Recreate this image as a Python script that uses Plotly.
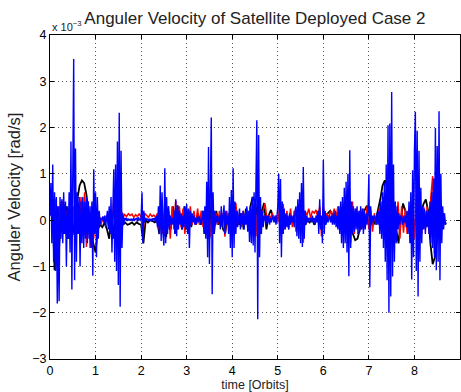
import numpy as np
import plotly.graph_objects as go

# ---- data (angular velocity, units of 1e-3 rad/s) ----
dt_blue = 0.02
blue_vals = [
    0.1, 0.8, -0.5, 1.2, -0.9, 0.6, -1.1, 0.5, -1.8, 0.3,
    -1.75, 0.5, -0.4, 0.45, -0.5, 0.6, -0.3, 0.4, -1.0, 0.3,
    -0.4, 0.6, -0.7, 1.7, -1.5, 0.8, 3.48, -1.3, 1.55, -0.9,
    0.6, -0.3, 0.5, -1.0, 0.4, -0.5, 0.5, -0.6, 0.4, -0.4,
    0.5, -0.5, 0.4, -0.4, 0.3, -0.6, 0.4, -1.2, 1.1, -0.3,
    0.6, -0.8, 0.5, -0.4, 0.2, -0.1, 0.05, 0.0, 0.08, -0.05,
    0.1, -0.15, 0.05, 0.2, -0.2, 0.3, -0.3, 0.5, -0.7, 0.8,
    1.1, -0.9, 1.2, -1.1, 1.7, -1.4, 2.32, -1.87, 1.5, -0.6,
    0.15, -0.1, 0.05, 0.0, 0.05, -0.02, 0.03, 0.0, 0.02, 0.0,
    0.03, -0.02, 0.04, 0.0, 0.02, 0.05, -0.03, 0.06, 0.02, 0.0,
    0.05, 0.6, -0.5, 0.2, -0.05, 0.05, 0.0, 0.03, -0.02, 0.02,
    0.0, 0.03, -0.02, 0.04, 0.0, 0.05, -0.05, 0.1, -0.15, 0.3,
    -0.3, 0.75, -0.45, 0.6, -0.3, -0.55, 1.12, -0.5, 0.5, -0.3,
    0.3, -0.2, 0.1, -0.1, 0.05, -0.1, 0.2, -0.3, 0.45, -0.35,
    0.3, -0.2, 0.2, -0.1, 0.15, -0.2, 0.1, -0.15, 0.3, -0.2,
    0.35, -0.3, 0.25, -0.6, 0.2, -0.1, 0.15, -0.05, 0.1, -0.1,
    0.05, -0.08, 0.1, -0.05, 0.08, 0.0, -0.1, 0.05, 0.2, -0.3,
    0.3, -0.4, 0.83, -0.8, 1.58, -0.95, 0.9, 2.22, -1.6, 0.6,
    -0.3, 0.2, -0.1, 0.1, -0.05, 0.05, 0.1, -0.2, 0.3, -0.15,
    0.1, 0.32, -0.3, 0.2, -0.1, 0.1, -0.3, 0.5, -0.6, 0.65,
    -0.8, 1.12, -0.6, 0.4, -0.3, 0.2, -0.15, 0.1, 0.25, -0.2,
    0.15, -0.1, 0.2, -0.2, 0.15, -0.1, 0.3, -0.25, 0.2, -0.47,
    0.3, -0.5, 0.5, -0.55, 0.6, -0.7, 1.2, 2.16, -2.14, 1.84,
    -0.8, 0.5, -0.3, 0.2, -0.15, 0.1, 0.05, -0.1, 0.1, -0.05,
    0.1, -0.1, 0.05, -0.05, 0.1, 0.0, -0.05, 0.1, -0.1, 0.05,
    0.3, 1.0, -0.5, 0.89, -0.8, 0.4, -0.3, 0.25, -0.2, 0.15,
    -0.15, 0.1, -0.2, 0.15, -0.1, 0.1, -0.05, 0.1, -0.15, 0.2,
    0.3, -0.35, 0.45, -0.4, 0.6, -0.5, 0.8, -0.58, 1.15, -0.4,
    0.2, -0.1, 0.1, -0.05, 0.05, 0.0, 0.05, -0.05, 0.1, -0.05,
    0.05, -0.1, 0.1, -0.05, 0.2, -0.3, 0.45, -0.2, 0.1, -0.5,
    1.3, -0.3, 0.2, -0.1, 0.1, -0.05, 0.05, 0.1, -0.05, 0.1,
    -0.1, 0.15, -0.1, 0.2, -0.15, 0.1, -0.2, 0.3, -0.3, 0.4,
    -0.5, 0.5, -0.6, 0.7, -0.5, 0.83, -0.7, 1.0, -1.21, 1.51,
    -0.6, 0.4, -0.3, 0.3, -0.25, 0.25, -0.2, 0.3, -0.3, 0.2,
    -0.25, 0.3, -0.2, 0.25, -0.3, 0.2, -0.2, 0.15, -0.1, 0.2,
    0.99, -1.45, 0.3, -0.1, 0.1, -0.05, 0.1, 0.05, -0.1, 0.15,
    -0.1, 0.2, -0.3, 0.4, -0.4, 0.6, -0.6, 0.8, -0.9, 1.2,
    -1.3, 2.05, -2.0, 2.09, -1.65, 2.77, -1.22, 1.2, -0.9, 0.4,
    -0.5, 0.3, -0.2, 0.15, -0.1, 0.1, 0.05, -0.1, 0.1, -0.05,
    0.1, -0.15, 0.2, -0.3, 0.4, -0.5, 0.6, -1.28, 1.08, -0.8,
    1.5, 2.34, -1.1, 1.93, -1.65, 1.5, -0.9, 0.7, -0.5, 0.3,
    -0.2, 0.25, -0.3, 0.2, -0.15, 0.2, -0.3, 0.4, -0.5, 0.6,
    -0.6, 0.9, -0.8, 1.99, -1.08, 1.6, -0.9, 2.35, -1.3, 1.0,
    -0.5, 0.3, -0.2, 0.15, -0.1, -0.05,
]

dt_red = 0.04
red_vals = [
    0.1, 0.5, -0.3, 0.45, -0.4, 0.3, -0.2, 0.4, -0.3, 0.2,
    -0.3, 0.5, -0.4, 0.3, -0.5, 0.4, -0.3, 0.5, -0.2, 0.6,
    -0.58, 0.4, -0.6, 0.3, -0.4, 0.2, -0.3, 0.1, -0.1, 0.05,
    0.0, 0.1, -0.1, 0.2, -0.3, 0.5, -0.4, 0.3, -0.5, 0.2,
    0.05, 0.12, 0.08, 0.14, 0.1, 0.13, 0.06, 0.12, 0.08, 0.14,
    0.06, -0.3, 0.15, 0.1, 0.06, 0.13, 0.08, 0.11, 0.06, 0.15,
    -0.2, 0.35, -0.3, 0.4, -0.2, 0.3, -0.4, 0.3, -0.2, 0.42,
    -0.2, 0.3, -0.15, 0.25, -0.3, 0.2, -0.2, 0.3, -0.1, 0.2,
    -0.1, 0.25, -0.1, 0.2, -0.15, 0.2, -0.3, 0.35, -0.35, 0.3,
    -0.2, 0.15, -0.1, 0.2, -0.1, 0.15, -0.36, 0.2, -0.1, 0.3,
    -0.3, 0.2, 0.37, -0.1, 0.15, -0.15, 0.2, -0.1, 0.25, -0.2,
    0.3, -0.3, 0.25, -0.35, 0.3, 0.2, -0.1, 0.2, 0.36, 0.05,
    0.1, 0.05, 0.15, 0.0, 0.1, -0.05, 0.3, -0.25, 0.35, -0.2,
    0.2, -0.2, 0.25, -0.15, 0.2, -0.25, 0.2, -0.1, 0.3, -0.49,
    0.2, 0.1, 0.25, 0.05, 0.2, 0.15, 0.22, 0.05, 0.29, -0.35,
    0.3, -0.1, 0.15, 0.05, 0.2, 0.1, 0.25, 0.05, 0.3, -0.2,
    0.3, -0.3, 0.4, -0.3, 0.5, -0.5, 0.4, -0.3, 0.25, -0.1,
    0.2, -0.2, 0.25, -0.15, 0.3, -0.2, 0.2, -0.25, 0.15, -0.1,
    0.1, 0.3, -0.1, 0.5, -0.3, 0.4, -0.7, 0.45, -0.65, 0.3,
    -0.3, 0.4, -0.4, 0.3, -0.27, 0.25, -0.3, 0.2, -0.3, 0.35,
    -0.4, 0.5, -0.5, 0.45, -0.3, 0.3, -0.2, 0.3, -0.3, 0.5,
    0.95, -0.72, 0.6, -0.4, 0.35, -0.2, 0.15, -0.1,
]

dt_black = 0.05
black_vals = [
    0.2, 0.4, -1.08, 0.3, -0.6, 0.4, -0.3, 0.3, -0.4, -0.3,
    -0.3, 0.2, 0.45, 0.75, 0.86, 0.8, 0.55, 0.1, -0.3, -0.5,
    -0.7, -0.2, -0.1, -0.15, -0.05, -0.2, -0.4, 0.2, -0.4, 0.3,
    -0.5, 0.3, -0.1, -0.05, -0.1, -0.08, -0.05, -0.1, -0.05, -0.08,
    -0.1, -0.5, 0.0, -0.05, 0.0, -0.02, -0.05, 0.0, -0.3, 0.3,
    -0.3, -0.36, 0.2, -0.2, 0.3, -0.29, 0.32, 0.1, -0.2, 0.3,
    -0.2, 0.2, -0.15, 0.1, -0.1, 0.15, -0.1, 0.2, -0.3, 0.3,
    -0.4, 0.5, -0.3, 0.2, -0.1, 0.1, -0.2, -0.27, 0.15, -0.1,
    0.3, -0.3, 0.2, -0.1, 0.15, -0.2, 0.25, -0.2, 0.3, 0.5,
    0.4, 0.1, -0.25, 0.2, 0.37, -0.2, 0.1, 0.22, 0.05, 0.0,
    0.05, 0.1, -0.05, 0.0, 0.05, -0.1, 0.0, 0.05, -0.05, 0.0,
    -0.1, 0.05, -0.1, 0.0, -0.05, 0.05, -0.1, 0.0, 0.1, -0.1,
    0.15, 0.1, 0.15, 0.2, 0.1, 0.15, 0.15, 0.05, 0.2, 0.0,
    0.3, 0.37, -0.1, -0.3, -0.43, -0.4, -0.2, 0.0, 0.2, 0.3,
    0.29, 0.0, -0.1, 0.0, 0.2, 0.45, 0.75, 0.86, 0.7, 0.2,
    -0.2, 0.1, -0.2, -0.5, 0.0, 0.36, 0.2, -0.1, -0.05, 0.0,
    -0.1, 0.0, 0.1, 0.2, 0.35, 0.45, 0.2, -0.5, -0.95, -0.8,
    -0.3, 0.1, 0.0, -0.05,
]

x_ticks = [0, 1, 2, 3, 4, 5, 6, 7, 8, 9]
y_ticks = [-3, -2, -1, 0, 1, 2, 3, 4]
y_tick_labels = ["\u22123", "\u22122", "\u22121", "0", "1", "2", "3", "4"]
scale = 1e-3

def series_time(vals, dt):
    return np.arange(len(vals)) * dt

fig = go.Figure()
for vals, dt, col, w in [(black_vals, dt_black, "#000000", 1.8),
                         (red_vals, dt_red, "#ff0000", 1.5),
                         (blue_vals, dt_blue, "#0000ff", 1.4)]:
    fig.add_trace(go.Scatter(
        x=series_time(vals, dt), y=np.array(vals) * scale,
        mode="lines", line=dict(color=col, width=w),
        showlegend=False, hoverinfo="skip"))

font_family = "Liberation Sans, Arial, Helvetica, sans-serif"
fig.update_layout(
    width=461, height=392,
    margin=dict(l=50, r=1, t=35, b=33),
    paper_bgcolor="white", plot_bgcolor="white",
    font=dict(family=font_family, size=12, color="#000000"),
    title=dict(text="Anguler Velocity of Satellite Deployed Case 2",
               x=0.553, xanchor="center", y=0.955, yanchor="middle",
               font=dict(size=17, color="#222222")),
    xaxis=dict(range=[0, 9], tickvals=x_ticks, ticktext=[str(v) for v in x_ticks],
               showline=True, linecolor="#000000", linewidth=1, mirror="ticks",
               ticks="inside", ticklen=4, tickcolor="#000000",
               showgrid=True, gridcolor="#555555", griddash="1px,3px", gridwidth=1,
               zeroline=False,
               title=dict(text="time [Orbits]", standoff=2,
                          font=dict(size=12.5, color="#222222")),
               tickfont=dict(size=12.5, color="#000000")),
    yaxis=dict(range=[-3 * scale, 4 * scale],
               tickvals=[v * scale for v in y_ticks], ticktext=y_tick_labels,
               showline=True, linecolor="#000000", linewidth=1, mirror="ticks",
               ticks="inside", ticklen=4, tickcolor="#000000",
               showgrid=True, gridcolor="#555555", griddash="1px,3px", gridwidth=1,
               zeroline=False,
               title=dict(text="Anguler Velocity [rad/s]", standoff=7,
                          font=dict(size=16.5, color="#222222")),
               tickfont=dict(size=12.5, color="#000000")),
    annotations=[dict(text="x 10<sup>\u22123</sup>", xref="paper", yref="paper",
                      x=0.0, y=1.0, xanchor="left", yanchor="bottom",
                      showarrow=False, yshift=0,
                      font=dict(size=11, color="#222222"))],
)

fig.write_html("out.html")
